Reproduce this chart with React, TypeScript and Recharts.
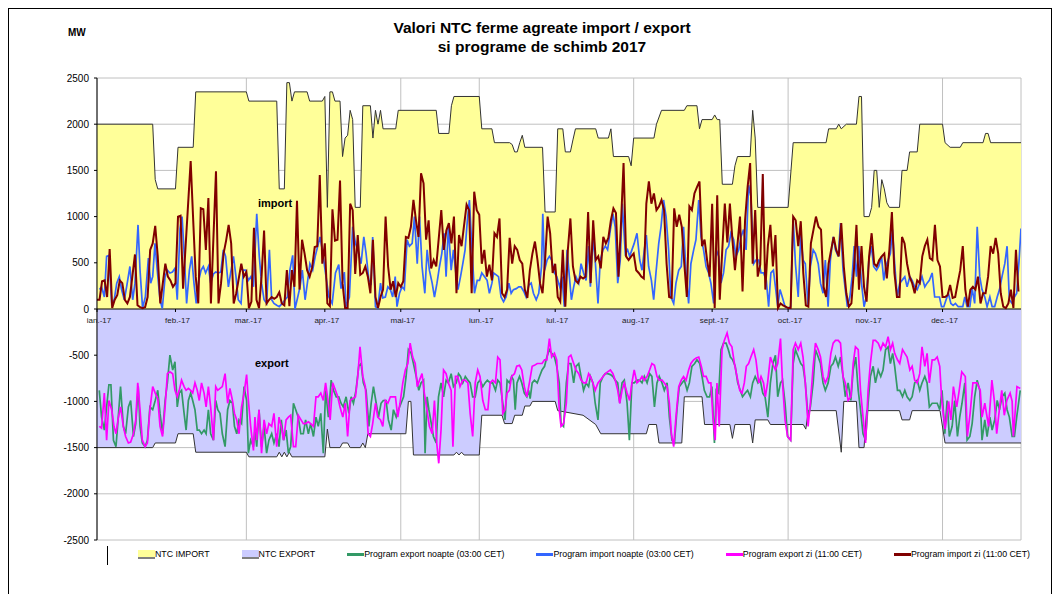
import React from 'react';
import { ComposedChart, Area, Line, XAxis, YAxis, CartesianGrid, ReferenceLine, ReferenceDot } from 'recharts';

// [day of 2017 (0 = 1 ian.), MW]
type Point = [number, number];

const monthLabels = ['ian.-17', 'feb.-17', 'mar.-17', 'apr.-17', 'mai-17', 'iun.-17', 'iul.-17', 'aug.-17', 'sept.-17', 'oct.-17', 'nov.-17', 'dec.-17'];
const monthStartDays = [0, 31, 59, 90, 120, 151, 181, 212, 243, 273, 304, 334];
const gridDays = [59, 120, 151, 212, 273, 334];
const mwTicks = [-2500, -2000, -1500, -1000, -500, 0, 500, 1000, 1500, 2000, 2500];

const ntcImportMW: Point[] = [
  [0, 2000], [22, 2000], [23, 1400], [24, 1300], [31, 1300], [32, 1750], [38, 1750], [39, 2350], [59, 2350], [60, 2250],
  [71, 2250], [72, 1300], [74, 1300], [75, 2450], [76, 2450], [77, 2250], [78, 2350], [83, 2350], [84, 2250], [89, 2250],
  [90, 2300], [91, 1100], [92, 2350], [93, 2350], [94, 2250], [96, 2250], [97, 1650], [98, 1850], [99, 1880], [100, 2150],
  [101, 2050], [102, 1100], [104, 1100], [105, 2200], [108, 2200], [109, 1850], [110, 2150], [111, 2000], [112, 2150], [113, 1950],
  [118, 1950], [119, 2150], [134, 2150], [135, 1900], [139, 1900], [140, 2200], [141, 2300], [151, 2300], [152, 1950], [156, 1950],
  [157, 1800], [163, 1800], [164, 1780], [165, 1700], [166, 1700], [167, 1800], [168, 1880], [169, 1750], [176, 1750], [177, 1050],
  [181, 1050], [182, 1950], [184, 1950], [185, 1700], [187, 1700], [188, 1830], [189, 1950], [197, 1950], [198, 1850], [202, 1850],
  [203, 1950], [204, 1650], [210, 1650], [211, 1550], [212, 1850], [220, 1850], [221, 2000], [223, 2150], [232, 2150], [233, 2200],
  [237, 2200], [238, 1950], [239, 2050], [243, 2050], [244, 2100], [245, 2050], [246, 2050], [247, 1350], [251, 1350], [252, 1550],
  [253, 1650], [258, 1650], [259, 2150], [260, 1850], [261, 1100], [273, 1100], [275, 1800], [288, 1800], [289, 1950], [292, 1950],
  [293, 2000], [294, 1950], [296, 2000], [300, 2000], [301, 2300], [302, 2300], [303, 1000], [305, 1000], [306, 1100], [307, 1500],
  [308, 1500], [309, 1100], [310, 1400], [311, 1300], [312, 1150], [313, 1100], [317, 1100], [318, 1500], [320, 1500], [321, 1700],
  [324, 1700], [325, 2000], [334, 2000], [335, 1800], [337, 1750], [341, 1750], [342, 1800], [350, 1800], [351, 1900], [352, 1900],
  [353, 1800], [365, 1800],
];

const ntcExportMW: Point[] = [
  [0, -1500], [22, -1500], [23, -1450], [31, -1450], [32, -1350], [38, -1350], [39, -1550], [59, -1550], [60, -1600], [71, -1600],
  [72, -1550], [73, -1600], [74, -1550], [75, -1600], [76, -1550], [77, -1600], [90, -1600], [91, -1300], [92, -1500], [96, -1500],
  [97, -1450], [99, -1450], [100, -1500], [104, -1500], [105, -1450], [106, -1500], [107, -1350], [122, -1350], [123, -1000], [124, -1000],
  [125, -1580], [141, -1580], [142, -1550], [143, -1580], [144, -1550], [145, -1580], [151, -1580], [152, -1150], [160, -1150], [161, -1240],
  [164, -1240], [165, -1150], [168, -1150], [169, -1050], [171, -1050], [172, -1000], [181, -1000], [182, -1100], [192, -1150], [197, -1250],
  [199, -1350], [217, -1350], [218, -1250], [221, -1250], [222, -1450], [231, -1450], [232, -950], [239, -950], [240, -1250], [250, -1250],
  [251, -1400], [252, -1250], [258, -1250], [259, -1450], [260, -1200], [265, -1200], [266, -1250], [279, -1250], [280, -1300], [281, -1100],
  [292, -1100], [294, -1550], [295, -1000], [300, -1000], [301, -1500], [303, -1500], [304, -1100], [317, -1100], [318, -1200], [321, -1200],
  [322, -1100], [333, -1100], [335, -1450], [365, -1450],
];

const exportNightMW: Point[] = [
  [0.9, -880], [1.8, -1170], [2.9, -1310], [3.8, -1060], [4.7, -820], [5.5, -820], [6.5, -1420], [7.5, -1490], [8.4, -1170], [9.3, -840],
  [10.4, -1270], [11.3, -1350], [12.4, -1060], [13.3, -990], [14.4, -1380], [15.3, -1240], [16.3, -840], [17, -1270], [17.9, -1450], [19, -1490],
  [19.9, -1420], [20.9, -1060], [22, -1090], [23, -990], [24, -880], [24.9, -1130], [25.9, -1350], [26.9, -990], [27.8, -800], [28.8, -500],
  [29.9, -660], [30.8, -570], [31.7, -1060], [32.5, -910], [33.4, -880], [34.4, -1130], [35.2, -1310], [36.1, -990], [37, -910], [37.8, -990],
  [38.7, -1090], [39.6, -1310], [40.4, -1310], [41.3, -1350], [42.3, -1310], [43.1, -1350], [44, -1090], [44.9, -1350], [46, -1420], [46.9, -990],
  [47.7, -1090], [48.6, -1130], [49.5, -1350], [50.6, -1490], [51.6, -1090], [52.5, -990], [53.5, -1020], [54.3, -1270], [55.2, -1350], [56.1, -1200],
  [57.1, -1240], [58.1, -840], [59.1, -990], [59.8, -1560], [60.7, -1420], [61.8, -1490], [62.4, -1310], [63.1, -1490], [64, -1090], [65, -1490],
  [66, -1270], [67, -1560], [67.9, -1420], [69, -1350], [69.9, -1450], [71, -1350], [71.9, -1490], [72.8, -1200], [73.7, -1420], [74.7, -1310],
  [75.6, -1560], [76.5, -1490], [77.6, -1020], [78.5, -1090], [79.5, -1170], [80.5, -1350], [81.5, -1350], [82.4, -1200], [83.5, -1350], [84.4, -1240],
  [85.5, -1380], [86.5, -1170], [87.4, -1270], [88.4, -1130], [89.4, -1560], [90.3, -880], [91.4, -1170], [92.5, -770], [93.4, -880], [94.5, -950],
  [95.5, -950], [96.4, -1020], [97.3, -1060], [98.4, -950], [99.5, -1130], [100.4, -950], [101.3, -1020], [102.3, -880], [103.4, -620], [104.3, -590],
  [105.2, -800], [106.3, -880], [107.4, -1270], [108.3, -1020], [109.2, -840], [110.3, -1020], [111.2, -1170], [112.2, -1020], [113.1, -990], [114.2, -990],
  [115.1, -1200], [116.2, -1310], [117.1, -1090], [118.2, -1170], [119.1, -1090], [120.1, -1020], [121.1, -950], [122.1, -730], [123, -440], [124.1, -480],
  [125, -590], [126.1, -730], [127.1, -880], [128, -800], [129, -770], [129.6, -1560], [130.4, -950], [131.1, -1090], [131.8, -1200], [132.9, -1380],
  [134, -1450], [134.9, -950], [135.9, -800], [136.9, -950], [137.9, -770], [138.8, -800], [139.9, -700], [140.8, -840], [141.9, -800], [142.8, -700],
  [143.6, -730], [144.5, -800], [145.5, -730], [146.5, -770], [147.4, -800], [148.4, -950], [149.4, -950], [150.4, -800], [151.3, -770], [152.4, -840],
  [153.3, -800], [154.2, -770], [155.3, -800], [156.3, -800], [157.4, -880], [158.3, -770], [159.2, -800], [160.3, -1020], [161.2, -1200], [162, -770],
  [162.9, -800], [163.8, -730], [164.5, -770], [165.2, -1090], [165.9, -800], [166.9, -730], [167.8, -800], [168.8, -910], [169.8, -950], [170.5, -880],
  [171.1, -970], [171.9, -800], [172.8, -770], [173.9, -800], [174.8, -730], [175.8, -660], [176.8, -620], [177.7, -520], [178.7, -440], [179.6, -480],
  [180.7, -520], [181.6, -620], [182.6, -800], [183.3, -1240], [184.3, -1270], [185.4, -800], [186.3, -590], [187.2, -590], [188.3, -800], [189.2, -620],
  [190.3, -590], [191.2, -730], [192.2, -880], [193.2, -800], [194.2, -840], [194.9, -730], [195.9, -800], [196.8, -1020], [197.9, -1200], [198.8, -800],
  [199.9, -730], [200.8, -700], [201.7, -700], [202.8, -710], [203.8, -730], [204.7, -770], [205.7, -800], [206.5, -1020], [207.4, -800], [208.3, -770],
  [209.4, -1020], [210.3, -1420], [211.3, -800], [212.2, -800], [213.3, -770], [214.4, -770], [215.3, -800], [216.2, -730], [217.3, -800], [218.3, -700],
  [219.2, -730], [220.2, -1060], [221.2, -800], [222.1, -730], [223.2, -800], [224.1, -880], [225.2, -800], [226.1, -1170], [227.1, -1420], [228.1, -1450],
  [229.1, -1090], [230, -840], [231.1, -800], [232, -770], [233.1, -880], [234, -800], [235, -620], [236.1, -590], [237, -550], [238.1, -590],
  [239, -730], [239.9, -880], [241, -950], [242, -950], [242.9, -840], [243.9, -1450], [244.6, -880], [245.6, -910], [246.5, -440], [247.5, -370],
  [248.5, -370], [249.4, -440], [250.2, -520], [251.1, -550], [252.1, -620], [253.1, -800], [254.1, -880], [255, -950], [256.1, -910], [257, -880],
  [258.1, -950], [259, -800], [260, -730], [261.1, -800], [262, -770], [263, -910], [263.9, -950], [265, -1170], [266, -800], [267, -590],
  [268, -500], [268.9, -950], [270, -800], [270.8, -770], [271.8, -1020], [272.8, -1380], [274, -1420], [275, -590], [275.9, -440], [277, -520],
  [278, -590], [278.9, -620], [279.8, -800], [280.9, -1170], [281.8, -1060], [282.9, -800], [283.8, -440], [284.9, -520], [285.8, -590], [286.8, -800],
  [287.7, -880], [288.8, -800], [289.9, -620], [290.8, -590], [291.7, -520], [292.8, -620], [293.7, -520], [294.7, -730], [295.6, -950], [296.7, -800],
  [297.8, -990], [298.7, -660], [299.7, -520], [300.7, -880], [301.6, -1090], [302.6, -1350], [303.6, -1420], [304.6, -1020], [305.5, -730], [306.6, -620],
  [307.5, -800], [308.6, -660], [309.6, -730], [310.5, -660], [311.5, -440], [312.5, -410], [313.4, -590], [314.3, -480], [315.1, -620], [316.2, -880],
  [317.1, -880], [318.2, -950], [319.1, -880], [320, -950], [321.1, -990], [322, -950], [323, -800], [324, -770], [325, -880], [325.9, -800],
  [327, -730], [327.9, -800], [328.8, -1060], [329.9, -1020], [330.9, -1020], [331.9, -1020], [332.9, -1090], [333.8, -880], [334.9, -1350], [335.8, -990],
  [336.7, -1380], [337.8, -1270], [338.8, -990], [339.9, -1380], [340.8, -1170], [341.7, -1020], [342.8, -800], [343.7, -1420], [344.8, -1380], [345.7, -1240],
  [346.7, -950], [347.7, -770], [348.7, -880], [349.6, -1420], [350.7, -1200], [351.6, -1380], [352.7, -1170], [353.6, -1310], [354.6, -1200], [355.6, -990],
  [356.5, -1090], [357.5, -950], [358.6, -910], [359.5, -1090], [360.4, -1170], [361.5, -1380], [362.4, -1380], [363.3, -1170], [364.7, -880],
];

const importNightMW: Point[] = [
  [1, 210], [1.8, 240], [2.9, 130], [3.8, 570], [4.7, 580], [5.8, 60], [6.8, 100], [7.8, 280], [8.8, 350], [9.7, 210],
  [10.8, 100], [11.7, 240], [13, 460], [14.1, 100], [15, 280], [16.2, 910], [17, 420], [18, 10], [19.1, 130], [20.3, 550],
  [21.2, 280], [22, 350], [22.9, 710], [23.8, 420], [24.9, 100], [25.8, 5], [26.9, 350], [27.8, 420], [28.8, 390], [29.8, 400],
  [30.8, 440], [31.7, 100], [32.8, 870], [33.6, 1000], [34.5, 570], [35.4, 60], [36.5, 420], [37.4, 570], [38.3, 280], [39.2, 60],
  [40.2, 310], [41.1, 420], [42, 460], [42.9, 390], [44, 460], [44.9, 280], [46, 380], [46.9, 400], [47.9, 390], [48.9, 400],
  [49.9, 640], [50.8, 570], [51.9, 240], [52.8, 390], [53.9, 570], [54.9, 350], [55.8, 100], [56.9, 60], [57.8, 420], [58.7, 420],
  [59.8, 310], [60.8, 350], [61.8, 240], [63.1, 1030], [64.1, 570], [65, 280], [66, 100], [67, 60], [68.1, 640], [69, 100],
  [69.9, 60], [71, 40], [72, 25], [73.2, 60], [74.3, 100], [75.2, 130], [76.2, 420], [77.3, 580], [78.2, 0], [79.3, 130],
  [80.2, 240], [81.1, 420], [82.2, 100], [83.1, 280], [84.1, 490], [85.2, 420], [86.2, 570], [87.2, 680], [88.1, 780], [89, 640],
  [90.1, 420], [91.6, 130], [92.9, 60], [94.2, 390], [95.5, 480], [96.4, 220], [97.7, 400], [98.4, 25], [99.7, 130], [101, 890],
  [102.1, 710], [103, 640], [104.3, 490], [105.4, 780], [106.3, 600], [107.4, 310], [108.3, 280], [108.9, 780], [110, 25], [110.9, 10],
  [112, 280], [112.9, 120], [113.9, 130], [114.9, 240], [115.9, 210], [116.8, 130], [117.8, 350], [118.5, 25], [119.5, 170], [120.5, 240],
  [121.4, 210], [122.5, 750], [123.4, 680], [124.5, 710], [125.4, 1000], [126.5, 490], [127.4, 1000], [128.4, 460], [129.5, 170], [130.4, 640],
  [131.3, 420], [132.4, 280], [133.3, 130], [134.3, 280], [135.3, 460], [136.2, 600], [137.1, 820], [137.9, 350], [138.8, 890], [139.9, 420],
  [140.8, 640], [141.9, 350], [142.6, 210], [143.6, 350], [144.5, 490], [145.4, 640], [146.3, 960], [147.1, 1180], [148, 710], [149.1, 170],
  [150.2, 310], [151.1, 310], [152, 390], [153.1, 350], [154.1, 310], [155, 170], [156, 280], [156.7, 390], [157.7, 370], [158.6, 350],
  [159.6, 130], [160.6, 80], [161.6, 130], [162.7, 280], [163.6, 170], [164.5, 210], [165.6, 220], [166.6, 240], [167.5, 240], [168.6, 190],
  [169.5, 130], [170.6, 260], [171.5, 280], [172.4, 170], [173.5, 100], [174.5, 170], [175.6, 460], [176.1, 1030], [176.8, 420], [177.8, 530],
  [178.7, 570], [179.6, 530], [180.7, 390], [181.6, 350], [182.8, 240], [183.7, 350], [184.6, 25], [185.7, 640], [186.6, 350], [187.4, 100],
  [188.3, 240], [189.2, 350], [190.3, 280], [191.2, 490], [192.2, 390], [193.2, 310], [194.2, 680], [194.9, 240], [195.9, 770], [196.8, 530],
  [197.9, 60], [198.8, 530], [199.9, 640], [200.8, 680], [201.7, 640], [202.8, 860], [203.8, 1030], [204.7, 890], [205.7, 280], [206.7, 530],
  [207.5, 1140], [208.7, 600], [209.6, 640], [210.4, 570], [211.3, 640], [212.2, 710], [213.3, 820], [214.4, 530], [215.3, 420], [216.2, 640],
  [217, 800], [217.9, 460], [219, 310], [219.9, 100], [220.8, 390], [221.9, 710], [222.8, 890], [223.8, 1180], [224.8, 1000], [225.8, 640],
  [226.7, 130], [227.8, 60], [228.7, 280], [229.8, 420], [230.8, 460], [231.7, 890], [232.7, 390], [233.7, 60], [234.6, 490], [235.7, 640],
  [236.6, 750], [237.7, 1180], [238.6, 780], [239.6, 640], [240.6, 460], [241.6, 390], [242.5, 280], [243.6, 60], [244.6, 640], [245.6, 570],
  [246.5, 280], [247.5, 390], [248.5, 640], [249.5, 680], [250.4, 820], [251.5, 750], [252.4, 570], [253.5, 640], [254.4, 780], [255.4, 860],
  [256.4, 640], [257.4, 1340], [258.3, 1220], [259.4, 490], [260.3, 530], [261.4, 530], [262.3, 390], [263.3, 390], [264.4, 310], [265.3, 25],
  [266.2, 390], [267.2, 420], [268, 240], [268.9, 25], [269.8, 210], [270.7, 130], [271.8, 25], [272.8, 10], [274, 25], [275, 980],
  [275.9, 490], [277, 130], [278, 820], [278.9, 530], [279.8, 490], [280.9, 25], [281.8, 460], [282.9, 640], [283.8, 600], [284.9, 490],
  [285.8, 280], [286.8, 170], [287.7, 530], [288.8, 25], [289.7, 530], [290.8, 780], [291.7, 640], [292.8, 570], [293.7, 930], [294.7, 420],
  [295.6, 210], [296.4, 25], [297.4, 130], [298.3, 350], [299.1, 680], [300, 350], [300.9, 680], [302, 280], [303, 25], [303.9, 130],
  [304.9, 530], [305.9, 680], [306.8, 460], [307.9, 420], [308.8, 460], [309.9, 570], [310.8, 310], [311.6, 460], [312.5, 530], [313.4, 600],
  [314.2, 860], [315.1, 490], [316.1, 130], [317.1, 280], [318, 310], [319.1, 350], [320, 240], [321.1, 350], [322, 310], [323, 240],
  [324, 210], [325, 280], [325.9, 350], [327, 240], [327.9, 280], [328.8, 310], [329.9, 390], [330.9, 130], [331.9, 130], [332.8, 130],
  [333.6, 25], [334.5, 25], [335.4, 100], [336.3, 170], [337.3, 60], [338.2, 40], [339.1, 60], [340.2, 25], [341.1, 25], [342, 25],
  [342.8, 130], [343.7, 25], [344.8, 25], [345.7, 220], [346.7, 60], [347.7, 890], [348.7, 350], [349.6, 210], [350.7, 130], [351.6, 25],
  [352.7, 130], [353.6, 25], [354.6, 25], [355.6, 130], [356.5, 210], [357.5, 350], [358.6, 490], [359.5, 680], [360.4, 100], [361.5, 60],
  [362.4, 130], [363.3, 170], [364.3, 550], [365, 870],
];

const exportDayMW: Point[] = [
  [0.9, -1270], [1.8, -1290], [2.9, -910], [3.8, -1420], [4.7, -990], [5.8, -1090], [6.7, -1270], [7.5, -1350], [8.4, -1180], [9.3, -1060],
  [10.4, -1270], [11.3, -1380], [12.4, -1450], [13.3, -1440], [14.4, -1350], [15.3, -1200], [16.1, -800], [17, -1090], [17.9, -1420], [19, -1490],
  [19.9, -1450], [20.9, -1090], [22, -840], [23, -910], [24, -970], [24.9, -1270], [25.9, -1380], [26.9, -1060], [27.8, -700], [28.8, -680],
  [29.9, -700], [30.8, -880], [31.7, -950], [32.5, -880], [33.4, -770], [34.4, -840], [35.2, -880], [36.1, -860], [37, -880], [37.8, -910],
  [38.7, -800], [39.6, -880], [40.4, -990], [41.3, -800], [42.3, -910], [43.1, -1060], [44, -840], [44.9, -1060], [46, -1420], [46.9, -840],
  [47.7, -880], [48.6, -860], [49.5, -840], [50.6, -700], [51.6, -1020], [52.5, -860], [53.5, -990], [54.3, -1130], [55.2, -1200], [56.1, -1350],
  [57.1, -1060], [58.1, -910], [59.1, -710], [59.8, -990], [60.7, -1270], [61.8, -1530], [62.4, -1170], [63.1, -1420], [64, -1090], [65, -1560],
  [66, -1200], [67, -1350], [67.9, -1240], [69, -1270], [69.9, -1130], [71, -1490], [71.9, -1170], [72.8, -1270], [73.7, -1420], [74.7, -1200],
  [75.6, -1170], [76.5, -1150], [77.6, -1490], [78.5, -1490], [79.5, -1150], [80.6, -1200], [81.5, -1240], [82.4, -1240], [83.5, -1220], [84.4, -1240],
  [85.5, -1270], [86.5, -950], [87.4, -950], [88.4, -910], [89.4, -990], [90.3, -800], [91.4, -1020], [92.1, -1200], [93.1, -800], [94.2, -880],
  [95.1, -950], [96, -1060], [97.1, -1170], [98.1, -1020], [99, -1380], [100, -990], [101, -970], [102.1, -950], [103, -730], [103.9, -410],
  [105, -730], [106, -840], [107.1, -1350], [108, -1380], [108.9, -1240], [110, -1020], [110.9, -1170], [112, -1200], [112.9, -1270], [113.9, -990],
  [114.9, -1020], [115.9, -950], [116.8, -950], [117.9, -950], [118.8, -1170], [119.7, -1020], [120.8, -800], [121.8, -660], [122.8, -590], [123.7, -370],
  [124.7, -520], [125.7, -590], [126.5, -840], [127.4, -770], [128.4, -700], [129.3, -910], [130.3, -1090], [131.3, -1270], [132.4, -1350], [133.3, -990],
  [134.2, -1450], [135, -1670], [135.9, -1310], [136.9, -660], [137.9, -700], [138.8, -800], [139.9, -880], [140.6, -1490], [141.6, -730], [142.5, -730],
  [143.4, -840], [144.5, -770], [145.4, -770], [146.5, -800], [147.4, -1130], [148.4, -1380], [149.4, -800], [150.4, -660], [151.3, -730], [152.4, -990],
  [153.4, -1090], [154.4, -1090], [155.3, -800], [156.3, -770], [157.4, -800], [158.3, -520], [159.2, -550], [160.3, -1130], [161.2, -1090], [162, -910],
  [162.9, -880], [163.8, -730], [164.9, -700], [165.8, -620], [166.9, -610], [167.8, -660], [168.8, -840], [169.8, -950], [170.8, -800], [171.9, -620],
  [172.8, -610], [173.9, -590], [174.8, -590], [175.8, -590], [176.8, -550], [177.7, -550], [178.7, -320], [179.6, -520], [180.7, -480], [181.6, -550],
  [182.6, -1090], [183.3, -1270], [184.3, -1240], [185.4, -1020], [186.3, -520], [187.2, -500], [188.3, -590], [189.2, -660], [190.3, -700], [191.2, -770],
  [192.2, -800], [193.2, -800], [194.2, -700], [194.9, -730], [195.9, -800], [196.8, -880], [197.9, -800], [198.8, -770], [199.9, -730], [200.8, -700],
  [201.7, -680], [202.8, -660], [203.8, -700], [204.7, -770], [205.7, -880], [206.5, -1020], [207.4, -880], [208.3, -800], [209.4, -910], [210.4, -990],
  [211.3, -800], [212.2, -660], [213.3, -800], [214.4, -770], [215.3, -730], [216.2, -770], [217.3, -730], [218.3, -660], [219.2, -590], [220.2, -610],
  [221.2, -730], [222.1, -770], [223.2, -770], [224.1, -800], [225.2, -840], [226.1, -1020], [226.9, -1350], [227.8, -1490], [228.7, -1170], [229.8, -840],
  [230.8, -770], [231.7, -730], [232.7, -770], [233.7, -660], [234.6, -590], [235.7, -550], [236.7, -530], [237.7, -520], [238.7, -620], [239.6, -730],
  [240.6, -730], [241.6, -800], [242.5, -800], [243.3, -1170], [244.2, -1420], [244.9, -800], [245.8, -1270], [246.9, -440], [247.8, -340], [248.9, -260],
  [249.8, -370], [250.8, -410], [251.8, -590], [252.8, -730], [253.9, -880], [254.8, -910], [255.7, -800], [256.5, -620], [257.4, -590], [258.3, -520],
  [259.4, -440], [260.3, -550], [261.4, -800], [262.3, -730], [263.3, -800], [264, -950], [264.9, -800], [266, -520], [266.9, -590], [268, -660],
  [268.9, -590], [270, -320], [270.8, -800], [271.8, -1200], [272.8, -1380], [274, -1420], [275, -440], [275.9, -370], [277, -440], [278, -370],
  [278.9, -520], [279.8, -800], [280.9, -1270], [281.8, -1020], [282.9, -620], [283.8, -370], [284.9, -440], [285.8, -520], [286.8, -730], [287.7, -800],
  [288.8, -730], [289.9, -480], [290.8, -370], [291.7, -340], [292.8, -340], [293.7, -370], [294.7, -730], [295.6, -800], [296.7, -990], [297.8, -950],
  [298.7, -590], [299.6, -410], [300.7, -440], [301.6, -880], [302.6, -1170], [303.6, -1450], [304.6, -880], [305.5, -590], [306.6, -340], [307.5, -340],
  [308.6, -370], [309.6, -440], [310.5, -370], [311.5, -410], [312.5, -300], [313.4, -440], [314.3, -370], [315.1, -480], [316.2, -550], [317.1, -590],
  [318.2, -440], [319.1, -480], [320, -520], [321.1, -660], [322, -620], [323, -770], [324, -800], [325, -700], [325.9, -410], [327, -620],
  [327.9, -480], [328.8, -800], [329.9, -550], [330.9, -550], [331.9, -520], [332.9, -620], [333.7, -990], [335, -1300], [336.4, -1000], [337.3, -1200],
  [338.3, -840], [339.6, -1060], [340.5, -900], [341.6, -680], [343, -730], [343.8, -1380], [344.9, -1130], [346, -800], [347.6, -800], [348.9, -880],
  [349.6, -1170], [350.7, -1020], [352.2, -1270], [353.5, -770], [354.5, -1000], [355.4, -1350], [356.4, -1100], [357.4, -880], [358.4, -1150], [359.4, -990],
  [360.7, -910], [361.5, -1000], [362, -1380], [363.4, -840], [364.7, -860],
];

const importDayMW: Point[] = [
  [0, 100], [1, 100], [2, 300], [3, 310], [4, 130], [5, 650], [6, 10], [7, 100], [8, 150], [9, 310],
  [10, 280], [11, 100], [12, 60], [13, 130], [15, 590], [16, 40], [17, 20], [18, 10], [19, 20], [20, 130],
  [21, 640], [22, 710], [23, 900], [24, 570], [25, 60], [26, 280], [27, 490], [28, 350], [29, 310], [30, 240],
  [31, 280], [32, 1000], [33, 1010], [34, 220], [37, 1600], [38, 960], [39, 350], [40, 60], [41, 1090], [42, 1080],
  [43, 640], [44, 1200], [45, 60], [47, 1490], [48, 60], [49, 280], [50, 600], [51, 740], [52, 910], [53, 710],
  [54, 60], [55, 170], [57, 490], [58, 350], [59, 400], [60, 10], [61, 80], [62, 880], [63, 100], [64, 10],
  [65, 350], [66, 850], [67, 60], [68, 100], [69, 130], [70, 110], [71, 130], [72, 180], [73, 60], [74, 40],
  [75, 420], [76, 30], [77, 420], [78, 240], [79, 1170], [80, 210], [81, 750], [82, 600], [83, 420], [84, 350],
  [85, 450], [86, 670], [87, 680], [88, 1450], [89, 490], [90, 710], [91, 60], [92, 30], [93, 1080], [94, 740],
  [95, 750], [96, 1390], [97, 280], [98, 10], [99, 10], [100, 1140], [101, 1070], [102, 380], [103, 800], [104, 370],
  [105, 390], [106, 460], [107, 350], [108, 170], [109, 750], [110, 130], [111, 10], [112, 130], [113, 210], [114, 1000],
  [115, 460], [116, 210], [117, 300], [118, 130], [119, 280], [120, 240], [121, 300], [122, 780], [123, 770], [124, 890],
  [125, 1180], [126, 960], [127, 780], [128, 1470], [129, 1360], [130, 750], [131, 960], [132, 440], [133, 530], [134, 460],
  [136, 1070], [137, 640], [138, 850], [139, 930], [140, 710], [141, 1000], [142, 170], [143, 800], [144, 680], [146, 1130],
  [147, 1070], [148, 170], [149, 1270], [150, 1070], [151, 1020], [152, 490], [153, 640], [154, 350], [155, 480], [156, 310],
  [157, 820], [158, 780], [159, 980], [160, 170], [161, 130], [162, 210], [163, 770], [164, 490], [165, 680], [166, 640],
  [167, 530], [168, 490], [169, 210], [170, 120], [171, 420], [172, 600], [173, 730], [174, 530], [175, 280], [176, 170],
  [177, 530], [178, 1000], [179, 820], [180, 390], [181, 490], [182, 130], [183, 80], [184, 640], [185, 25], [186, 640],
  [187, 980], [188, 460], [189, 310], [190, 280], [191, 350], [192, 330], [193, 350], [194, 1050], [195, 280], [196, 960],
  [197, 530], [198, 570], [199, 440], [200, 780], [201, 710], [202, 770], [203, 960], [204, 1090], [205, 1040], [206, 350],
  [207, 930], [208, 1580], [209, 570], [210, 530], [211, 570], [212, 600], [213, 420], [214, 390], [215, 350], [216, 330],
  [217, 1140], [218, 1380], [219, 1140], [220, 1250], [221, 1070], [222, 1110], [223, 1180], [224, 1070], [225, 490], [226, 130],
  [227, 120], [228, 1090], [229, 890], [230, 1020], [231, 890], [232, 490], [233, 130], [234, 1110], [235, 1070], [236, 1250],
  [237, 1320], [238, 1380], [239, 680], [240, 750], [241, 530], [242, 350], [243, 1140], [244, 10], [245, 1230], [246, 100],
  [247, 640], [248, 1140], [249, 720], [250, 1140], [251, 750], [252, 420], [253, 700], [254, 1000], [255, 190], [256, 960],
  [257, 1320], [258, 1580], [259, 490], [260, 1070], [261, 350], [262, 480], [263, 1460], [264, 210], [265, 680], [266, 910],
  [267, 460], [268, 800], [269, 10], [270, 60], [271, 40], [272, 25], [273, 10], [274, 10], [275, 1000], [276, 960],
  [277, 680], [278, 950], [279, 390], [280, 40], [281, 25], [282, 710], [284, 1000], [285, 890], [286, 860], [287, 240],
  [288, 130], [289, 490], [290, 640], [291, 780], [292, 640], [293, 570], [294, 930], [295, 460], [296, 170], [297, 25],
  [298, 60], [299, 420], [300, 910], [301, 210], [302, 680], [303, 240], [304, 80], [305, 570], [306, 820], [307, 490],
  [308, 460], [309, 530], [310, 570], [311, 600], [312, 330], [313, 640], [314, 1050], [315, 390], [316, 130], [317, 130],
  [318, 780], [319, 710], [320, 490], [321, 350], [322, 280], [323, 170], [324, 310], [325, 280], [326, 570], [327, 680],
  [328, 750], [329, 550], [330, 530], [331, 910], [332, 530], [333, 460], [334, 130], [335, 130], [336, 150], [337, 260],
  [338, 120], [339, 130], [340, 280], [341, 420], [342, 680], [343, 210], [344, 25], [345, 210], [346, 240], [347, 210],
  [348, 350], [349, 60], [350, 170], [351, 170], [352, 350], [353, 680], [354, 600], [355, 770], [356, 600], [357, 170],
  [358, 25], [359, 10], [360, 60], [361, 210], [362, 10], [363, 640], [364, 190],
];

const seriesData: Record<string, Point[]> = {
  ntcImport: ntcImportMW,
  ntcExport: ntcExportMW,
  exportNight: exportNightMW,
  importNight: importNightMW,
  exportDay: exportDayMW,
  importDay: importDayMW,
};

// one row per distinct day position; series without a point there stay empty (connectNulls joins them)
const rows = (() => {
  const byDay = new Map<number, Record<string, number>>();
  Object.entries(seriesData).forEach(([key, pts]) => {
    pts.forEach(([day, mw]) => {
      const row = byDay.get(day) ?? { day };
      row[key] = mw;
      byDay.set(day, row);
    });
  });
  return Array.from(byDay.values()).sort((a, b) => a.day - b.day);
})();

const legendItems = [
  { label: 'NTC IMPORT', color: '#FFFF99', box: true },
  { label: 'NTC EXPORT', color: '#CCCCFF', box: true },
  { label: 'Program export noapte (03:00 CET)', color: '#339966', box: false },
  { label: 'Program import noapte (03:00 CET)', color: '#3366FF', box: false },
  { label: 'Program export zi (11:00 CET)', color: '#FF00FF', box: false },
  { label: 'Program import zi (11:00 CET)', color: '#800000', box: false },
];

const MonthMark = ({ cx, cy, label }: { cx: number; cy: number; label: string }) => (
  <g>
    <line x1={cx} y1={cy} x2={cx} y2={cy + 3} stroke="#000" />
    <text x={cx + 2} y={cy + 14} textAnchor="middle" fontSize={8} fill="#222">{label}</text>
  </g>
);

const font = '"Liberation Sans", Arial, sans-serif';

export default function App() {
  return (
    <div style={{ position: 'absolute', left: 0, top: 0, width: 1062, height: 594, background: '#fff', fontFamily: font, overflow: 'hidden' }}>
      <div style={{ position: 'absolute', left: 8, top: 8, width: 1044, height: 600, border: '1px solid #000', boxSizing: 'border-box' }} />
      <div style={{ position: 'absolute', left: 0, width: 1084, top: 18, textAlign: 'center', fontWeight: 'bold', fontSize: 15.5, lineHeight: '19px' }}>
        Valori NTC ferme agreate import / export<br />si programe de schimb 2017
      </div>
      <div style={{ position: 'absolute', left: 68, top: 27, fontWeight: 'bold', fontSize: 10 }}>MW</div>

      <ComposedChart width={1062} height={594} data={rows} margin={{ top: 78, right: 41, bottom: 54, left: 37 }}>
        <CartesianGrid stroke="#c0c0c0" />
        <XAxis type="number" dataKey="day" domain={[0, 365]} ticks={gridDays} hide allowDataOverflow />
        <YAxis
          type="number"
          domain={[-2500, 2500]}
          ticks={mwTicks}
          interval={0}
          width={60}
          tickSize={3}
          tickMargin={5}
          tick={{ fontSize: 10, fill: '#000' }}
          axisLine={{ stroke: '#000' }}
          tickLine={{ stroke: '#000' }}
          allowDataOverflow
        />
        <Area dataKey="ntcImport" type="linear" baseValue={0} fill="#FFFF99" fillOpacity={1} stroke="#333" strokeWidth={1} connectNulls dot={false} activeDot={false} isAnimationActive={false} />
        <Area dataKey="ntcExport" type="linear" baseValue={0} fill="#CCCCFF" fillOpacity={1} stroke="#333" strokeWidth={1} connectNulls dot={false} activeDot={false} isAnimationActive={false} />
        <ReferenceLine y={0} stroke="#000" strokeWidth={1.2} />
        <Line dataKey="exportNight" type="linear" stroke="#339966" strokeWidth={1.7} connectNulls dot={false} activeDot={false} isAnimationActive={false} />
        <Line dataKey="importNight" type="linear" stroke="#3366FF" strokeWidth={1.7} connectNulls dot={false} activeDot={false} isAnimationActive={false} />
        <Line dataKey="exportDay" type="linear" stroke="#FF00FF" strokeWidth={1.7} connectNulls dot={false} activeDot={false} isAnimationActive={false} />
        <Line dataKey="importDay" type="linear" stroke="#800000" strokeWidth={2} connectNulls dot={false} activeDot={false} isAnimationActive={false} />
        {monthStartDays.map((d, i) => (
          <ReferenceDot
            key={d}
            x={d}
            y={0}
            r={0}
            ifOverflow="visible"
            shape={(p: any) => <MonthMark cx={p.cx} cy={p.cy} label={monthLabels[i]} />}
          />
        ))}
      </ComposedChart>

      <div style={{ position: 'absolute', left: 258, top: 197, fontWeight: 'bold', fontSize: 11 }}>import</div>
      <div style={{ position: 'absolute', left: 255, top: 357, fontWeight: 'bold', fontSize: 11 }}>export</div>

      <div style={{ position: 'absolute', left: 107, top: 546, width: 1, height: 19, background: '#000' }} />
      <div style={{ position: 'absolute', left: 138, top: 549, display: 'flex', alignItems: 'center', gap: 32, fontSize: 8.8, whiteSpace: 'nowrap' }}>
        {legendItems.map((it) => (
          <div key={it.label} style={{ display: 'flex', alignItems: 'center' }}>
            {it.box ? (
              <div style={{ width: 17, height: 7, background: it.color, borderBottom: '2px solid #808080' }} />
            ) : (
              <div style={{ width: 17, height: 3, background: it.color }} />
            )}
            <span>{it.label}</span>
          </div>
        ))}
      </div>
    </div>
  );
}
